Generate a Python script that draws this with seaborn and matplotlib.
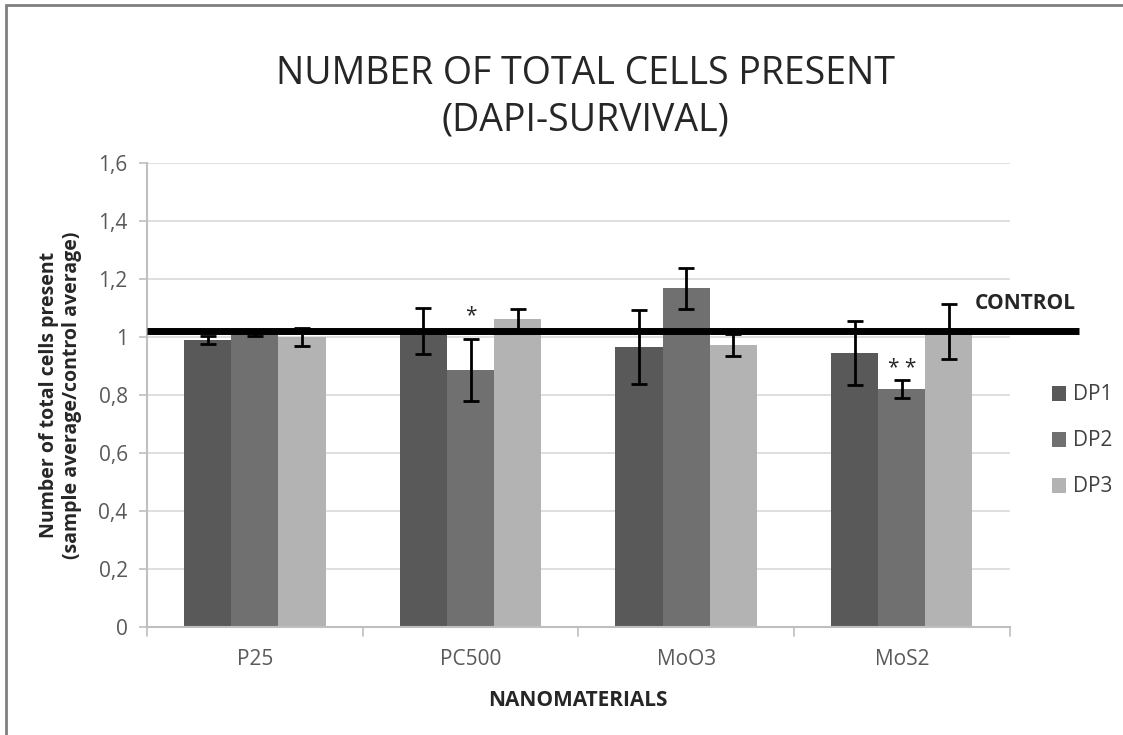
import matplotlib
matplotlib.use("Agg")
import matplotlib.pyplot as plt
import seaborn as sns
import pandas as pd
import numpy as np
from matplotlib.patches import Rectangle, Patch

categories = ["P25", "PC500", "MoO3", "MoS2"]
series = ["DP1", "DP2", "DP3"]
dp1 = [0.99, 1.02, 0.967, 0.944]
dp2 = [1.015, 0.886, 1.168, 0.821]
dp3 = [1.0, 1.061, 0.972, 1.02]
err1 = [0.015, 0.08, 0.128, 0.11]
err2 = [0.01, 0.107, 0.07, 0.03]
err3 = [0.03, 0.036, 0.038, 0.094]
control_value = 1.02
colors = ["#595959", "#707070", "#b3b3b3"]

rows = []
for s, vals in zip(series, [dp1, dp2, dp3]):
    for c, v in zip(categories, vals):
        rows.append({"cat": c, "series": s, "value": v})
df = pd.DataFrame(rows)
errs = {"DP1": err1, "DP2": err2, "DP3": err3}

sns.set_style("white")
plt.rcParams['font.family'] = ['Open Sans', 'DejaVu Sans']

fig = plt.figure(figsize=(11.23, 7.35), dpi=100)
ax = fig.add_axes([0.131, 0.147, 0.768, 0.631])

sns.barplot(data=df, x="cat", y="value", hue="series", order=categories,
            hue_order=series, palette=colors, width=0.656, saturation=1,
            errorbar=None, ax=ax, zorder=2, legend=False)

for cont, s in zip(ax.containers, series):
    xs = [b.get_x() + b.get_width() / 2 for b in cont]
    hs = [b.get_height() for b in cont]
    ax.errorbar(xs, hs, yerr=errs[s], fmt="none", ecolor="black",
                elinewidth=2, capsize=6, capthick=2, zorder=4)
    for b in cont:
        b.set_edgecolor("none")

ax.set_ylim(0, 1.6)
ax.set_xlim(-0.5, 3.5)
ax.set_yticks(np.arange(0, 1.61, 0.2))
ax.set_yticklabels(["0", "0,2", "0,4", "0,6", "0,8", "1", "1,2", "1,4", "1,6"])
ax.yaxis.grid(True, color="#d9d9d9", linewidth=1.2, zorder=0)
ax.set_axisbelow(True)
for sp in ["top", "right"]:
    ax.spines[sp].set_visible(False)
for sp in ["left", "bottom"]:
    ax.spines[sp].set_color("#bfbfbf")
    ax.spines[sp].set_linewidth(1.5)
ax.tick_params(axis="y", length=6, color="#bfbfbf", width=1.2, labelsize=15,
               labelcolor="#595959", left=True, pad=8)
ax.set_xticks(range(len(categories)))
ax.set_xticklabels(categories)
ax.tick_params(axis="x", length=0, labelsize=15, labelcolor="#595959", pad=16)
for xb in [-0.5, 0.5, 1.5, 2.5, 3.5]:
    ax.plot([xb, xb], [0, -0.03], color="#bfbfbf", lw=1.2, clip_on=False,
            transform=ax.transData)

ax.set_xlabel("NANOMATERIALS", fontsize=15, fontweight="bold", labelpad=14)
ax.set_ylabel("Number of total cells present\n(sample average/control average)",
              fontsize=14, fontweight="bold", labelpad=12, linespacing=1.2)

# control line
ax.plot([-0.5, 3.82], [control_value, control_value], color="black", lw=5,
        clip_on=False, zorder=5, solid_capstyle="butt")
ax.text(3.34, control_value + 0.06, "CONTROL", fontsize=15, fontweight="bold",
        ha="left", va="bottom")

# significance marks
ax.text(ax.containers[1][1].get_x() + ax.containers[1][1].get_width() / 2, 1.075,
        "*", ha="center", va="center", fontsize=15)
ax.text(ax.containers[1][3].get_x() + ax.containers[1][3].get_width() / 2, 0.89,
        "* *", ha="center", va="center", fontsize=15)

fig.text(0.521, 0.900, "NUMBER OF TOTAL CELLS PRESENT", ha="center", va="center",
         fontsize=27)
fig.text(0.521, 0.836, "(DAPI-SURVIVAL)", ha="center", va="center", fontsize=27)

handles = [Patch(facecolor=c, edgecolor="none") for c in colors]
fig.legend(handles, series, loc="center left", bbox_to_anchor=(0.92, 0.40),
           frameon=False, fontsize=15, handlelength=0.7, handleheight=0.7,
           handletextpad=0.3, labelspacing=1.2, labelcolor="#404040")

fig.patches.append(Rectangle((0.005, -0.05), 1.2, 1.043, transform=fig.transFigure,
                             fill=False, edgecolor="#808080", linewidth=2))

fig.savefig("out.png", dpi=100)
